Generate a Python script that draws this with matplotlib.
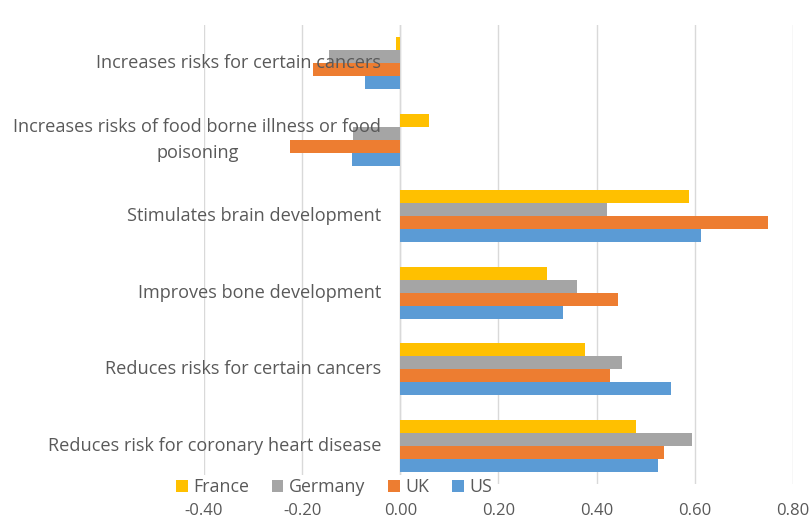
import matplotlib
matplotlib.use("Agg")
import matplotlib.pyplot as plt
import numpy as np
from matplotlib.patches import Patch

categories = [
    "Increases risks for certain cancers",
    "Increases risks of food borne illness or food\npoisoning",
    "Stimulates brain development",
    "Improves bone development",
    "Reduces risks for certain cancers",
    "Reduces risk for coronary heart disease",
]
series = ["France", "Germany", "UK", "US"]
france = [-0.008, 0.058, 0.588, 0.298, 0.376, 0.480]
germany = [-0.145, -0.097, 0.422, 0.359, 0.451, 0.594]
uk = [-0.177, -0.224, 0.749, 0.443, 0.427, 0.537]
us = [-0.073, -0.098, 0.612, 0.331, 0.551, 0.524]
xticks = [-0.40, -0.20, 0.00, 0.20, 0.40, 0.60, 0.80]

colors = ["#FFC000", "#A5A5A5", "#ED7D31", "#5B9BD5"]
text_color = "#595959"
font = "Open Sans"

W, H = 811, 521
fig = plt.figure(figsize=(W / 100, H / 100), dpi=100)
ax = fig.add_axes([204 / W, (H - 484) / H, (793 - 204) / W, (484 - 25) / H])

y = np.arange(len(categories))
bar_h = 0.17
values = [france, germany, uk, us]
for k, (vals, col) in enumerate(zip(values, colors)):
    ax.barh(y + (k - 1.5) * bar_h, vals, height=bar_h, color=col, zorder=3)

ax.set_xlim(-0.4, 0.8)
ax.set_ylim(len(categories) - 0.5, -0.5)
ax.set_xticks(xticks)
ax.set_xticklabels([f"{t:.2f}" for t in xticks], fontfamily=font, fontsize=12, color=text_color)
ax.tick_params(axis="x", length=0, pad=13.5)
ax.set_yticks([])
ax.grid(axis="x", color="#D9D9D9", linewidth=1, zorder=0)
ax.axvline(0, color="#D9D9D9", linewidth=1, zorder=2)
for s in ax.spines.values():
    s.set_visible(False)

for i, lab in enumerate(categories):
    ax.annotate(lab, xy=(0, i), xytext=(-19, 0), textcoords="offset pixels",
                ha="right", va="center", multialignment="center",
                fontfamily=font, fontsize=13.1, color=text_color, linespacing=1.6)

handles = [Patch(facecolor=c, edgecolor="none") for c in colors]
leg = fig.legend(handles, series, loc="center", bbox_to_anchor=(334 / W, (H - 487) / H),
                 ncol=4, frameon=True, framealpha=1, edgecolor="none", facecolor="white",
                 prop={"family": font, "size": 12.8}, handlelength=0.65, handleheight=0.65,
                 handletextpad=0.3, columnspacing=1.3, borderpad=0.15)
for t in leg.get_texts():
    t.set_color(text_color)

fig.savefig("out.png", dpi=100, facecolor="white")
